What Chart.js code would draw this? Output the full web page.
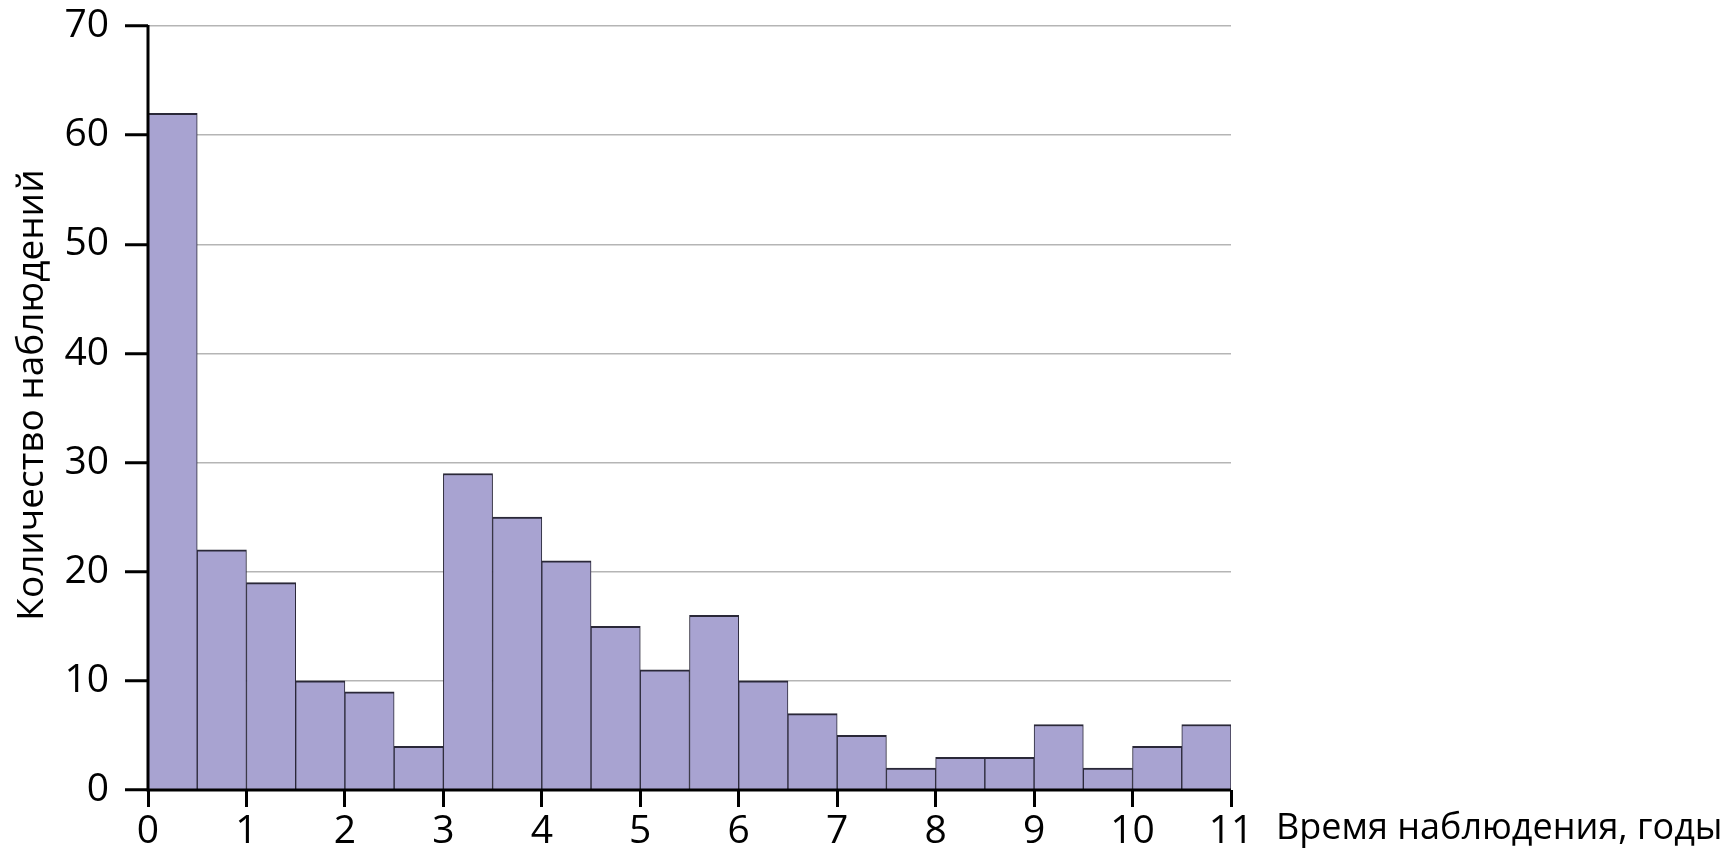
<!DOCTYPE html>
<html>
<head>
<meta charset="utf-8">
<script src="https://cdn.jsdelivr.net/npm/chart.js@4.4.1/dist/chart.umd.min.js"></script>
<style>
html,body{margin:0;padding:0;background:#fff;}
#wrap{width:1733px;height:855px;position:relative;}
</style>
</head>
<body>
<div id="wrap"><canvas id="c" width="1733" height="855"></canvas></div>
<script>
// Histogram bins (years): left edges and counts
const binLeft = [0,0.5,1,1.5,2,2.5,3,3.5,4,4.5,5,5.5,6,6.5,7,7.5,8,8.5,9,9.5,10,10.5];
const binWidth = 0.5;
const counts = [62,22,19,10,9,4,29,25,21,15,11,16,10,7,5,2,3,3,6,2,4,6];
const xTicks = [0,1,2,3,4,5,6,7,8,9,10,11];
const yTicks = [0,10,20,30,40,50,60,70];
const xTitle = 'Время наблюдения, годы';
const yTitle = 'Количество наблюдений';

const FONT = '"Open Sans", "Noto Sans", sans-serif';

const points = binLeft.map((l, i) => ({x: l + binWidth / 2, y: counts[i]}));

const titlesAndAxes = {
  id: 'titlesAndAxes',
  afterDatasetsDraw(chart) {
    const ctx = chart.ctx;
    const a = chart.chartArea;
    ctx.save();
    ctx.strokeStyle = '#000';
    ctx.lineWidth = 3;
    ctx.beginPath();
    ctx.moveTo(a.left, a.top - 1);
    ctx.lineTo(a.left, a.bottom);
    ctx.lineTo(a.right, a.bottom);
    ctx.stroke();
    ctx.fillStyle = '#000';
    ctx.font = '36px ' + FONT;
    ctx.textAlign = 'left';
    ctx.textBaseline = 'alphabetic';
    ctx.fillText(xTitle, 1276, 839);
    ctx.translate(43, 395);
    ctx.rotate(-Math.PI / 2);
    ctx.textAlign = 'center';
    ctx.font = '37px ' + FONT;
    ctx.fillText(yTitle, 0, 0);
    ctx.restore();
  }
};

new Chart(document.getElementById('c'), {
  type: 'bar',
  data: {
    datasets: [{
      data: points,
      backgroundColor: '#a8a3d1',
      borderColor: '#2a2838',
      borderWidth: {top: 2, left: 1, right: 1, bottom: 0},
      borderSkipped: false,
      barPercentage: 1,
      categoryPercentage: 1
    }]
  },
  options: {
    responsive: false,
    animation: false,
    events: [],
    layout: {padding: {left: 0, top: 26, right: 502, bottom: 0}},
    plugins: {legend: {display: false}, tooltip: {enabled: false}},
    scales: {
      x: {
        type: 'linear',
        min: 0, max: 11,
        offset: false,
        afterBuildTicks(scale) { scale.ticks = xTicks.map(v => ({value: v})); },
        afterFit(scale) { scale.height = 65; scale.paddingLeft = 0; scale.paddingRight = 0; },
        border: {display: false},
        grid: {offset: false, drawOnChartArea: false, drawTicks: true, tickLength: 17, tickColor: '#000', tickWidth: 3},
        ticks: {color: '#000', font: {family: FONT, size: 39}, padding: 1, maxRotation: 0, autoSkip: false}
      },
      y: {
        min: 0, max: 70,
        afterBuildTicks(scale) { scale.ticks = yTicks.map(v => ({value: v})); },
        afterFit(scale) { scale.width = 148; scale.paddingTop = 0; scale.paddingBottom = 0; },
        border: {display: false},
        grid: {color: '#b5b5b5', lineWidth: 1.5, drawTicks: true, tickLength: 23, tickColor: '#000', tickWidth: 3},
        ticks: {color: '#000', font: {family: FONT, size: 39}, padding: 16}
      }
    }
  },
  plugins: [titlesAndAxes]
});
</script>
</body>
</html>
